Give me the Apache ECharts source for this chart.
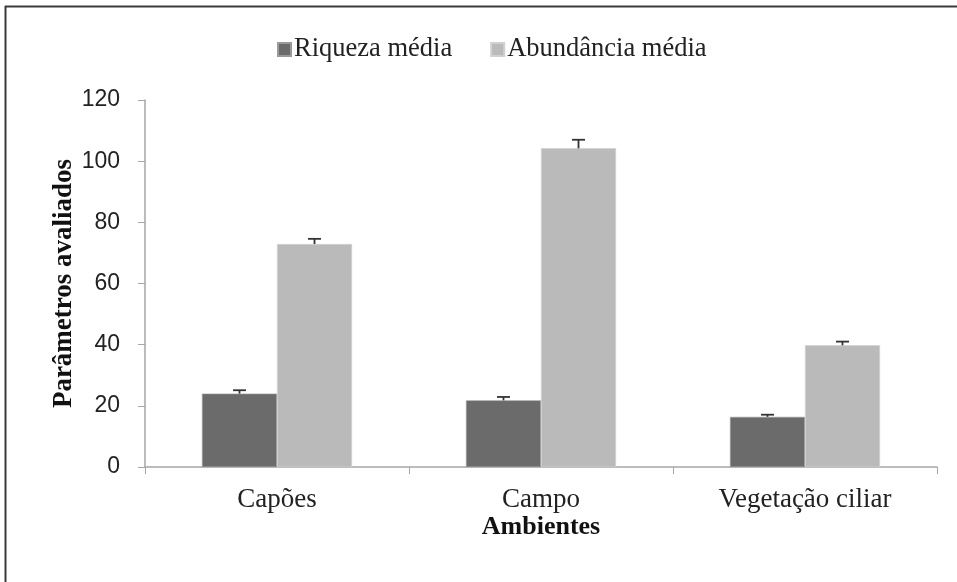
<!DOCTYPE html>
<html><head><meta charset="utf-8">
<script src="https://cdn.jsdelivr.net/npm/echarts@6/dist/echarts.min.js"></script>
<style>html,body{margin:0;padding:0;background:#fff}#c{width:957px;height:582px}</style>
</head><body><div id="c"></div>
<script>
const categories = ['Capões', 'Campo', 'Vegetação ciliar'];
const riqueza = [24.0, 21.8, 16.4];
const riquezaErr = [1.1, 1.1, 0.7];
const abundancia = [72.9, 104.2, 39.8];
const abundanciaErr = [1.7, 2.8, 1.2];
const seriesNames = ['Riqueza média', 'Abundância média'];
const yTicks = [0, 20, 40, 60, 80, 100, 120];

const chart = echarts.init(document.getElementById('c'), null, {renderer: 'canvas'});
const BW = 75;
function errSeries(vals, errs, offset) {
  return {
    type: 'custom',
    silent: true,
    z: 5,
    data: vals.map((v, i) => [i, v, v + errs[i]]),
    renderItem: function (params, api) {
      const base = api.coord([api.value(0), api.value(1)]);
      const top = api.coord([api.value(0), api.value(2)]);
      const x = base[0] + offset;
      const hw = 6.5;
      return {
        type: 'group',
        children: [
          {type: 'line', shape: {x1: x, y1: base[1], x2: x, y2: top[1]}, style: {stroke: '#333', lineWidth: 1.8}},
          {type: 'line', shape: {x1: x - hw, y1: top[1], x2: x + hw, y2: top[1]}, style: {stroke: '#333', lineWidth: 1.8}}
        ]
      };
    }
  };
}
chart.setOption({
  animation: false,
  backgroundColor: '#fff',
  graphic: [
    {type: 'line', shape: {x1: 5, y1: 6.5, x2: 957, y2: 6.5}, style: {stroke: '#3a3a3a', lineWidth: 2}},
    {type: 'line', shape: {x1: 5.5, y1: 6, x2: 5.5, y2: 582}, style: {stroke: '#3a3a3a', lineWidth: 2}}
  ],
  legend: {
    top: 31,
    left: 272,
    itemWidth: 13, itemHeight: 13, itemGap: 38,
    icon: 'rect',
    textStyle: {fontFamily: 'Liberation Serif', fontSize: 26.5, color: '#222', padding: [0, 0, 0, -2]},
    data: seriesNames
  },
  grid: {left: 145, right: 20, top: 100, bottom: 115},
  xAxis: {
    type: 'category',
    data: categories,
    name: 'Ambientes',
    nameLocation: 'middle',
    nameGap: 47,
    nameMoveOverlap: false,
    nameTextStyle: {fontFamily: 'Liberation Serif', fontSize: 26, fontWeight: 'bold', color: '#111'},
    axisLine: {lineStyle: {color: '#a6a6a6', width: 1.5}},
    axisTick: {show: true, length: 7, lineStyle: {color: '#a6a6a6'}},
    axisLabel: {fontFamily: 'Liberation Serif', fontSize: 27, color: '#222', margin: 19}
  },
  yAxis: {
    type: 'value',
    min: 0, max: 120, interval: 20,
    name: 'Parâmetros avaliados',
    nameLocation: 'middle',
    nameGap: 67,
    nameMoveOverlap: false,
    nameTextStyle: {fontFamily: 'Liberation Serif', fontSize: 27, fontWeight: 'bold', color: '#111'},
    axisLine: {show: true, lineStyle: {color: '#a6a6a6', width: 1.5}},
    axisTick: {show: true, length: 7, lineStyle: {color: '#a6a6a6'}},
    splitLine: {show: false},
    axisLabel: {fontFamily: 'Liberation Sans', fontSize: 23, color: '#222', margin: 25,
      formatter: v => yTicks.includes(v) ? String(v) : ''}
  },
  series: [
    {name: seriesNames[0], type: 'bar', data: riqueza, barWidth: BW, barGap: '0%',
      itemStyle: {color: '#6b6b6b', borderColor: '#9a9a9a', borderWidth: 0.6}},
    {name: seriesNames[1], type: 'bar', data: abundancia, barWidth: BW, barGap: '0%',
      itemStyle: {color: '#bababa', borderColor: '#d0d0d0', borderWidth: 0.6}},
    errSeries(riqueza, riquezaErr, -BW / 2),
    errSeries(abundancia, abundanciaErr, BW / 2)
  ]
});
</script></body></html>
